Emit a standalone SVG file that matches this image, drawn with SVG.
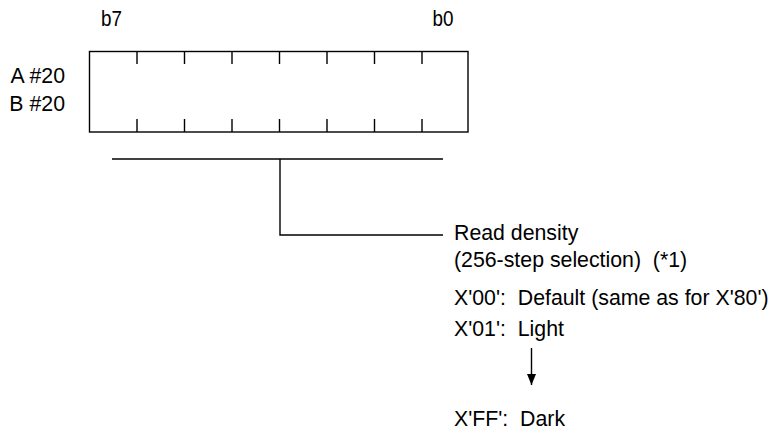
<svg xmlns="http://www.w3.org/2000/svg" width="774" height="433" viewBox="0 0 774 433">
<style>
text{font-family:"Liberation Sans",Arial,sans-serif;font-size:21.3px;fill:#000;white-space:pre}
.ln{stroke:#000;stroke-width:1.4;fill:none}
</style>
<defs>
<marker id="ah" markerWidth="11" markerHeight="9" refX="11" refY="4.5" orient="auto" markerUnits="userSpaceOnUse" viewBox="0 0 11 9">
<path d="M0,0 L11,4.5 L0,9 Z" fill="#000"/>
</marker>
</defs>
<rect width="774" height="433" fill="#fff"/>
<g id="labels">
<text x="101" y="26" textLength="21" lengthAdjust="spacingAndGlyphs">b7</text>
<text x="432.5" y="26" textLength="21" lengthAdjust="spacingAndGlyphs">b0</text>
<text x="65" y="83" text-anchor="end">A #20</text>
<text x="65" y="111" text-anchor="end">B #20</text>
</g>
<g id="register">
<rect class="ln" x="89.5" y="51.5" width="378.5" height="80.5"/>
<path class="ln" d="M137,51.5V64M184.5,51.5V64M232,51.5V64M279.5,51.5V64M327,51.5V64M374.5,51.5V64M422,51.5V64M137,119V132M184.5,119V132M232,119V132M279.5,119V132M327,119V132M374.5,119V132M422,119V132"/>
</g>
<g id="connectors">
<path class="ln" d="M112,159H443"/>
<path class="ln" d="M280,159V235H443"/>
<path class="ln" d="M531.5,348V385" marker-end="url(#ah)"/>
</g>
<g id="description">
<text x="454" y="240">Read density</text>
<text x="454" y="267">(256-step selection)  (*1)</text>
<text x="454" y="305">X'00':  Default (same as for X'80')</text>
<text x="454" y="336">X'01':  Light</text>
<text x="454" y="426">X'FF':  Dark</text>
</g>
</svg>
